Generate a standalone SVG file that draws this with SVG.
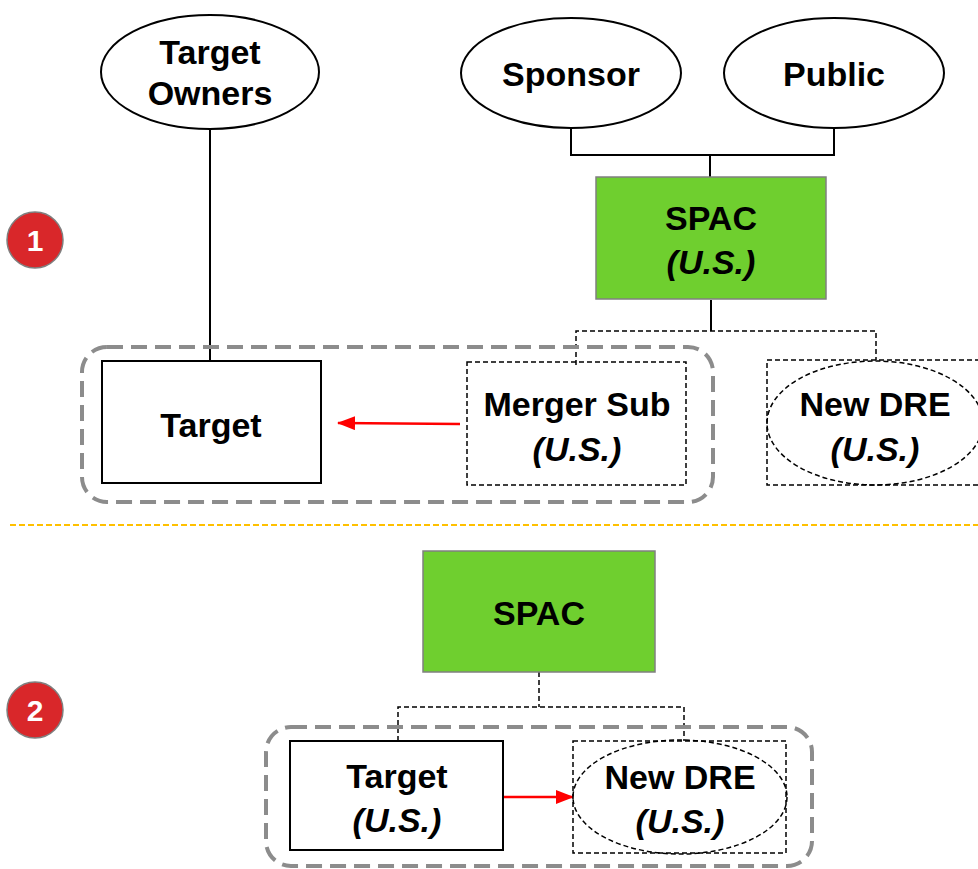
<svg xmlns="http://www.w3.org/2000/svg" width="978" height="869" viewBox="0 0 978 869">
<defs>
<style>
.t{font-family:"Liberation Sans",Arial,sans-serif;font-weight:bold;font-size:34px;fill:#000;text-anchor:middle}
.i{font-style:italic}
.solid{fill:#fff;stroke:#000;stroke-width:2}
.dash{fill:none;stroke:#000;stroke-width:1.5;stroke-dasharray:5 3}
.green{fill:#6fcf2f;stroke:#808080;stroke-width:1.5}
.grp{fill:none;stroke:#8c8c8c;stroke-width:4;stroke-dasharray:16 8}
.line{fill:none;stroke:#000;stroke-width:2}
.badge{fill:#d9272a;stroke:#7f7f7f;stroke-width:1.5}
.bt{font-family:"Liberation Sans",Arial,sans-serif;font-weight:bold;font-size:30px;fill:#fff;text-anchor:middle}
</style>
<marker id="ah" markerWidth="18" markerHeight="14" refX="17" refY="7" orient="auto" markerUnits="userSpaceOnUse" viewBox="0 0 18 14">
<path d="M0,0 L18,7 L0,14 z" fill="#ff0000"/>
</marker>
</defs>
<rect width="978" height="869" fill="#fff"/>

<g id="connectors">
<path class="line" d="M210,130 V361"/>
<path class="line" d="M571,128 V155 H834 V128 M710,155 V177"/>
<path class="line" d="M711,300 V331"/>
<path class="dash" d="M576,365 V331 H876 V360"/>
<path d="M460,424 L338,423" stroke="#ff0000" stroke-width="2.5" fill="none" marker-end="url(#ah)"/>
<path d="M10,525 H978" stroke="#ffc000" stroke-width="2" stroke-dasharray="6 3" fill="none"/>
<path class="dash" d="M539,672 V707 M398,741 V707 H684 V741"/>
<path d="M503,797 L573,797" stroke="#ff0000" stroke-width="2.5" fill="none" marker-end="url(#ah)"/>
</g>

<g id="badge1"><circle class="badge" cx="35" cy="240" r="28"/><text class="bt" x="35" y="251">1</text></g>
<g id="badge2"><circle class="badge" cx="35" cy="710" r="28"/><text class="bt" x="35" y="721">2</text></g>

<g id="target-owners"><ellipse class="solid" cx="210" cy="72" rx="109" ry="57"/><text class="t" x="210" y="64">Target</text><text class="t" x="210" y="105">Owners</text></g>
<g id="sponsor"><ellipse class="solid" cx="571" cy="73" rx="110" ry="55"/><text class="t" x="571" y="86">Sponsor</text></g>
<g id="public"><ellipse class="solid" cx="834" cy="73" rx="110" ry="55"/><text class="t" x="834" y="86">Public</text></g>
<g id="spac1"><rect class="green" x="596" y="177" width="230" height="122"/><text class="t" x="711" y="230">SPAC</text><text class="t i" x="711" y="274">(U.S.)</text></g>

<g id="group1"><rect class="grp" x="82" y="347" width="631" height="155" rx="25"/></g>
<g id="target1"><rect class="solid" x="102" y="361" width="219" height="122"/><text class="t" x="211" y="437">Target</text></g>
<g id="mergersub"><rect class="dash" x="467" y="362" width="219" height="123"/><text class="t" x="577" y="416">Merger Sub</text><text class="t i" x="577" y="461">(U.S.)</text></g>
<g id="newdre1"><rect class="dash" x="767" y="360" width="215" height="125"/><ellipse class="dash" cx="875" cy="423" rx="108" ry="62"/><text class="t" x="875" y="416">New DRE</text><text class="t i" x="875" y="461">(U.S.)</text></g>

<g id="spac2"><rect class="green" x="423" y="551" width="232" height="121"/><text class="t" x="539" y="625">SPAC</text></g>
<g id="group2"><rect class="grp" x="266" y="727" width="546" height="139" rx="25"/></g>
<g id="target2"><rect class="solid" x="290" y="741" width="213" height="109"/><text class="t" x="397" y="788">Target</text><text class="t i" x="397" y="832">(U.S.)</text></g>
<g id="newdre2"><rect class="dash" x="573" y="741" width="213" height="112"/><ellipse class="dash" cx="680" cy="797" rx="107" ry="57"/><text class="t" x="680" y="789">New DRE</text><text class="t i" x="680" y="833">(U.S.)</text></g>
</svg>
